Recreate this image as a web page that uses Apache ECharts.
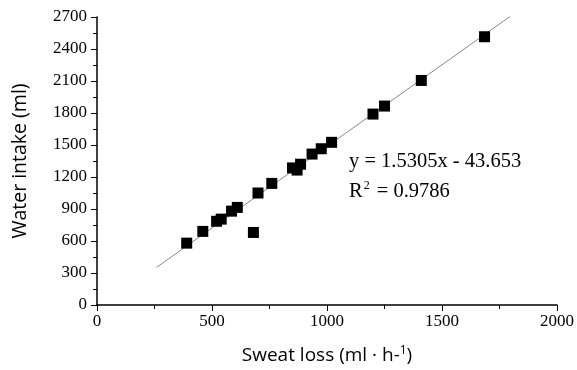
<!DOCTYPE html>
<html><head><meta charset="utf-8">
<script src="https://cdn.jsdelivr.net/npm/echarts@6/dist/echarts.min.js"></script>
<style>html,body{margin:0;padding:0;background:#fff}#c{width:577px;height:370px}</style>
</head><body><div id="c"></div>
<script>
const sweatLoss = [390, 460, 520, 540, 585, 610, 680, 700, 760, 850, 870, 885, 935, 975, 1020, 1200, 1250, 1410, 1685];
const waterIntake = [580, 690, 785, 805, 880, 915, 680, 1050, 1140, 1285, 1265, 1320, 1415, 1465, 1525, 1790, 1865, 2105, 2515];
const fitSlope = 1.5305;
const fitIntercept = -43.653;
const fitRange = [260, 1800];
const xTicks = [0, 500, 1000, 1500, 2000];
const yTicks = [0, 300, 600, 900, 1200, 1500, 1800, 2100, 2400, 2700];
const eqText = 'y = 1.5305x - 43.653';
const r2Text = '0.9786';

const pts = sweatLoss.map((x, i) => [x, waterIntake[i]]);
const fitLine = fitRange.map(x => [x, fitSlope * x + fitIntercept]);

const chart = echarts.init(document.getElementById('c'));
const serif = '"Liberation Serif", "Times New Roman", serif';
const sans = '"Open Sans", "DejaVu Sans", sans-serif';
chart.setOption({
  animation: false,
  grid: {left: 97, right: 18, top: 17, bottom: 62},
  xAxis: {
    type: 'value', min: xTicks[0], max: xTicks[xTicks.length - 1], interval: 500,
    axisLine: {show: true, lineStyle: {color: '#000', width: 1.5}},
    axisTick: {show: true, length: 6, lineStyle: {color: '#000'}},
    minorTick: {show: true, splitNumber: 2, length: 4, lineStyle: {color: '#000'}},
    splitLine: {show: false},
    axisLabel: {color: '#000', fontFamily: serif, fontSize: 17, margin: 8, formatter: v => String(v)},
    name: 'Sweat loss (ml \u00b7 h-{sup|1})', nameLocation: 'middle', nameGap: 40,
    nameTextStyle: {color: '#000', fontFamily: sans, fontSize: 19,
      rich: {sup: {fontSize: 12, verticalAlign: 'top', fontFamily: sans, color: '#000', padding: [0,0,9,0]}}}
  },
  yAxis: {
    type: 'value', min: yTicks[0], max: yTicks[yTicks.length - 1], interval: 300,
    axisLine: {show: true, lineStyle: {color: '#000', width: 1.5}},
    axisTick: {show: true, length: 6, lineStyle: {color: '#000'}},
    minorTick: {show: true, splitNumber: 2, length: 4, lineStyle: {color: '#000'}},
    splitLine: {show: false},
    axisLabel: {color: '#000', fontFamily: serif, fontSize: 17, margin: 10, formatter: v => String(v)},
    name: 'Water intake (ml)', nameLocation: 'middle', nameGap: 67, nameRotate: 90,
    nameTextStyle: {color: '#000', fontFamily: sans, fontSize: 19.5}
  },
  series: [
    {type: 'line', data: fitLine, symbol: 'none', lineStyle: {color: '#888', width: 1}, z: 1},
    {type: 'scatter', data: pts, symbol: 'rect', symbolSize: 11, itemStyle: {color: '#000', opacity: 1}, z: 2}
  ],
  graphic: [
    {type: 'text', left: 349, top: 151, style: {text: eqText, font: '20.5px ' + serif, fill: '#000'}},
    {type: 'text', left: 349, top: 180, style: {text: 'R{s|2} = ' + r2Text, font: '20.5px ' + serif, fill: '#000',
      rich: {s: {fontSize: 12, fontFamily: serif, verticalAlign: 'top', padding: [0,2,12,1]}}}}
  ]
});
</script></body></html>
